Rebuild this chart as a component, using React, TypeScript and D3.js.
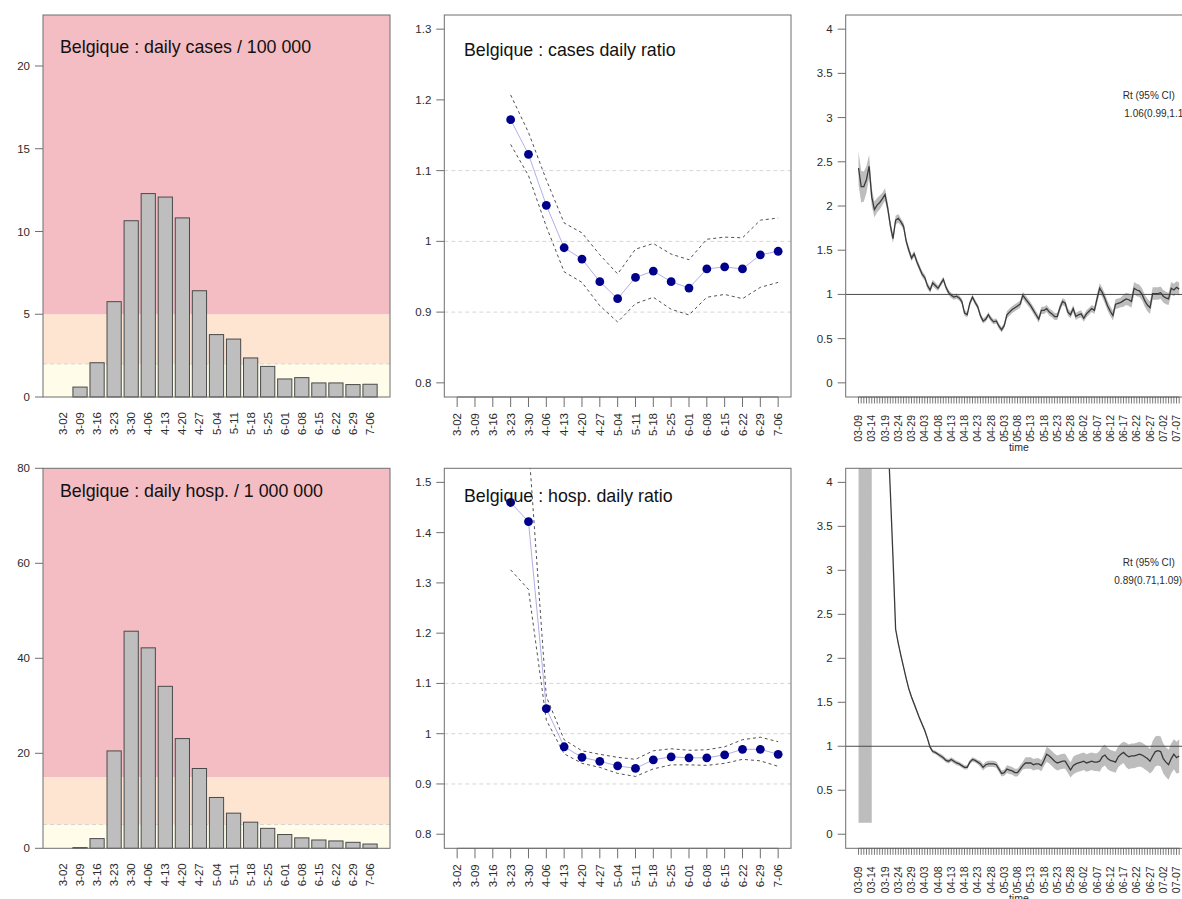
import React from "react";
import * as d3 from "d3";

const FONT = "'Liberation Sans', Arial, Helvetica, sans-serif";

// weekly categories (left and middle columns)
const weeks = ["3-02", "3-09", "3-16", "3-23", "3-30", "4-06", "4-13", "4-20", "4-27", "5-04",
  "5-11", "5-18", "5-25", "6-01", "6-08", "6-15", "6-22", "6-29", "7-06"];

const casesPer100k = [0, 0.6, 2.07, 5.76, 10.65, 12.29, 12.08, 10.82, 6.42, 3.77, 3.5, 2.36, 1.85, 1.09, 1.17, 0.85, 0.85, 0.75, 0.77];
const hospPer1M = [0, 0.15, 2.04, 20.5, 45.7, 42.2, 34.1, 23.1, 16.8, 10.7, 7.4, 5.5, 4.2, 2.9, 2.2, 1.75, 1.55, 1.26, 0.9];

const casesRatio = [null, null, null, 1.172, 1.123, 1.051, 0.991, 0.975, 0.943, 0.919, 0.949, 0.958, 0.943, 0.934, 0.961, 0.964, 0.961, 0.981, 0.986];
const casesRatioHi = [null, null, null, 1.207, 1.154, 1.087, 1.026, 1.012, 0.981, 0.954, 0.989, 0.997, 0.982, 0.974, 1.003, 1.006, 1.005, 1.03, 1.033];
const casesRatioLo = [null, null, null, 1.137, 1.093, 1.021, 0.957, 0.942, 0.909, 0.886, 0.912, 0.921, 0.904, 0.896, 0.921, 0.925, 0.919, 0.935, 0.942];

const hospRatio = [null, null, null, 1.46, 1.422, 1.05, 0.974, 0.953, 0.945, 0.936, 0.931, 0.948, 0.954, 0.952, 0.952, 0.958, 0.969, 0.969, 0.959];
const hospRatioHi = [null, null, null, 1.9, 1.578, 1.074, 0.988, 0.966, 0.959, 0.953, 0.949, 0.966, 0.97, 0.967, 0.968, 0.974, 0.988, 0.993, 0.984];
const hospRatioLo = [null, null, null, 1.326, 1.287, 1.027, 0.96, 0.941, 0.933, 0.921, 0.915, 0.93, 0.938, 0.938, 0.937, 0.941, 0.949, 0.946, 0.935];

// daily Rt, day 0 = 03-09
const rtTickLabels = ["03-09", "03-14", "03-19", "03-24", "03-29", "04-03", "04-08", "04-13", "04-18", "04-23",
  "04-28", "05-03", "05-08", "05-13", "05-18", "05-23", "05-28", "06-02", "06-07", "06-12",
  "06-17", "06-22", "06-27", "07-02", "07-07"];

const rtCases = [
  2.43, 2.22, 2.22, 2.3, 2.45, 2.1, 1.96, 2.01, 2.04, 2.08,
  2.13, 1.98, 1.78, 1.63, 1.84, 1.86, 1.82, 1.77, 1.6, 1.5,
  1.41, 1.46, 1.37, 1.3, 1.23, 1.19, 1.1, 1.05, 1.13, 1.1,
  1.07, 1.12, 1.17, 1.08, 1.02, 0.99, 0.97, 0.98, 0.96, 0.92,
  0.79, 0.77, 0.9, 0.97, 0.91, 0.86, 0.76, 0.7, 0.72, 0.77,
  0.72, 0.69, 0.7, 0.64, 0.6, 0.65, 0.77, 0.8, 0.83, 0.85,
  0.87, 0.89, 0.99, 0.95, 0.91, 0.87, 0.82, 0.77, 0.72, 0.82,
  0.82, 0.84, 0.8, 0.78, 0.75, 0.75, 0.85, 0.92, 0.9, 0.8,
  0.77, 0.84, 0.75, 0.77, 0.78, 0.73, 0.78, 0.81, 0.84, 0.82,
  0.95, 1.07, 1.02, 0.95, 0.87, 0.81, 0.76, 0.89, 0.9, 0.91,
  0.93, 0.95, 0.94, 0.92, 1.07, 1.05, 1.04, 1.0, 0.93, 0.88,
  0.85, 1.01, 1.01, 1.01, 1.02, 0.98, 0.96, 0.95, 1.07, 1.05,
  1.08, 1.06];
const rtCasesHalf = [
  0.19, 0.18, 0.17, 0.15, 0.13, 0.1, 0.09, 0.08, 0.08, 0.07,
  0.07, 0.06, 0.06, 0.05, 0.05, 0.05, 0.04, 0.04, 0.04, 0.04,
  0.035, 0.035, 0.035, 0.035, 0.035, 0.035, 0.035, 0.035, 0.035, 0.035,
  0.03, 0.03, 0.03, 0.03, 0.03, 0.03, 0.03, 0.03, 0.03, 0.03,
  0.03, 0.03, 0.03, 0.03, 0.03, 0.03, 0.03, 0.03, 0.03, 0.03,
  0.03, 0.03, 0.03, 0.03, 0.03, 0.03, 0.04, 0.04, 0.04, 0.04,
  0.04, 0.04, 0.04, 0.04, 0.04, 0.04, 0.04, 0.04, 0.04, 0.04,
  0.04, 0.04, 0.04, 0.04, 0.04, 0.04, 0.04, 0.04, 0.04, 0.04,
  0.04, 0.04, 0.04, 0.04, 0.04, 0.04, 0.04, 0.04, 0.04, 0.04,
  0.055, 0.055, 0.055, 0.055, 0.055, 0.055, 0.055, 0.055, 0.055, 0.055,
  0.07, 0.07, 0.07, 0.07, 0.07, 0.07, 0.07, 0.07, 0.07, 0.07,
  0.07, 0.07, 0.07, 0.07, 0.07, 0.07, 0.07, 0.07, 0.07, 0.07,
  0.07, 0.075];

const rtHosp = [
  null, null, null, null, null, null, null, null, null, null,
  null, 4.6, 3.9, 3.15, 2.33, 2.17, 2.03, 1.9, 1.77, 1.65,
  1.56, 1.48, 1.4, 1.32, 1.25, 1.18, 1.09, 0.99, 0.94, 0.93,
  0.91, 0.89, 0.87, 0.84, 0.83, 0.85, 0.83, 0.81, 0.8, 0.78,
  0.76, 0.76, 0.82, 0.85, 0.84, 0.82, 0.8, 0.76, 0.79, 0.8,
  0.8, 0.8, 0.79, 0.74, 0.69, 0.7, 0.74, 0.73, 0.72, 0.7,
  0.7, 0.74, 0.78, 0.81, 0.81, 0.81, 0.79, 0.8, 0.8, 0.78,
  0.84, 0.91, 0.89, 0.86, 0.83, 0.81, 0.82, 0.83, 0.83, 0.78,
  0.73, 0.78, 0.8, 0.81, 0.82, 0.83, 0.81, 0.82, 0.83, 0.82,
  0.82, 0.83, 0.88, 0.9, 0.86, 0.84, 0.83, 0.82, 0.88, 0.91,
  0.93, 0.9, 0.88, 0.89, 0.89, 0.9, 0.91, 0.9, 0.88, 0.86,
  0.83, 0.89, 0.94, 0.95, 0.94, 0.86, 0.82, 0.79, 0.86, 0.91,
  0.87, 0.89];
const rtHospHalf = [
  null, null, null, null, null, null, null, null, null, null,
  null, 0.02, 0.02, 0.02, 0.02, 0.02, 0.02, 0.02, 0.02, 0.02,
  0.02, 0.02, 0.02, 0.02, 0.02, 0.02, 0.02, 0.02, 0.02, 0.02,
  0.02, 0.025, 0.025, 0.025, 0.025, 0.025, 0.025, 0.025, 0.025, 0.025,
  0.025, 0.025, 0.025, 0.025, 0.025, 0.025, 0.035, 0.035, 0.035, 0.035,
  0.035, 0.035, 0.035, 0.035, 0.035, 0.035, 0.045, 0.045, 0.045, 0.045,
  0.045, 0.045, 0.045, 0.065, 0.065, 0.065, 0.065, 0.065, 0.065, 0.065,
  0.065, 0.085, 0.085, 0.085, 0.085, 0.085, 0.085, 0.085, 0.085, 0.085,
  0.085, 0.1, 0.1, 0.1, 0.1, 0.1, 0.1, 0.1, 0.1, 0.1,
  0.1, 0.12, 0.12, 0.12, 0.12, 0.12, 0.12, 0.12, 0.12, 0.12,
  0.12, 0.14, 0.14, 0.14, 0.14, 0.14, 0.14, 0.14, 0.14, 0.14,
  0.14, 0.17, 0.17, 0.17, 0.17, 0.17, 0.17, 0.17, 0.17, 0.17,
  0.18, 0.19];
// first days of the hosp. estimate: very wide interval
const rtHospEarlyLo = [0.13, 0.13, 0.13, 0.13, 0.13, 0.13];
const rtHospEarlyHi = [9, 9, 9, 9, 9, 9];

const casesZones = [2, 5];
const hospZones = [5, 15];
const casesTicks = [0, 5, 10, 15, 20];
const hospTicks = [0, 20, 40, 60, 80];
const casesRatioTicks = [0.8, 0.9, 1, 1.1, 1.2, 1.3];
const hospRatioTicks = [0.8, 0.9, 1, 1.1, 1.2, 1.3, 1.4, 1.5];
const ratioGrid = [0.9, 1, 1.1];
const rtTicks = [0, 0.5, 1, 1.5, 2, 2.5, 3, 3.5, 4];

const ZONE_LOW = "#FFFDE9";
const ZONE_MID = "#FEE5D1";
const ZONE_HIGH = "#F4BCC3";
const BOX = "#6e6e6e";
const TXT = "#2b2b2b";

const fmt = (v: number) => `${+v.toFixed(2)}`;

function YAxis({ y, ticks, x0 }: any) {
  return (
    <g>
      {ticks.map((t: number) => (
        <g key={t}>
          <line x1={x0 - 8} x2={x0} y1={y(t)} y2={y(t)} stroke={BOX} />
          <text x={x0 - 13} y={y(t)} dy="0.35em" textAnchor="end" fontSize={11.5} fill={TXT}>{fmt(t)}</text>
        </g>
      ))}
    </g>
  );
}

function BarPanel({ values, yDomain, yTicks, zones, title, top, bottom, titleY }: any) {
  const x0 = 43, x1 = 390;
  const x = d3.scaleBand<string>().domain(weeks).range([x0, x1]).paddingInner(1 / 6).paddingOuter(0.753);
  const y = d3.scaleLinear().domain(yDomain).range([bottom, top]);
  return (
    <g>
      <rect x={x0} y={y(zones[0])} width={x1 - x0} height={y(0) - y(zones[0])} fill={ZONE_LOW} />
      <rect x={x0} y={y(zones[1])} width={x1 - x0} height={y(zones[0]) - y(zones[1])} fill={ZONE_MID} />
      <rect x={x0} y={top} width={x1 - x0} height={y(zones[1]) - top} fill={ZONE_HIGH} />
      <line x1={x0} x2={x1} y1={y(zones[0])} y2={y(zones[0])} stroke="#d4d4d4" strokeDasharray="4,3" />
      {values.map((v: number, i: number) => (
        <rect key={i} x={x(weeks[i])} y={y(v)} width={x.bandwidth()} height={y(0) - y(v)}
          fill="#BEBEBE" stroke="#4a4a4a" strokeWidth={1} />
      ))}
      <rect x={x0} y={top} width={x1 - x0} height={bottom - top} fill="none" stroke={BOX} />
      <YAxis y={y} ticks={yTicks} x0={x0} />
      {weeks.map((w) => (
        <text key={w} transform={`translate(${x(w)! + x.bandwidth() / 2},${bottom + 15}) rotate(-90)`}
          textAnchor="end" dy="0.35em" fontSize={11.5} fill={TXT}>{w}</text>
      ))}
      <text x={60} y={titleY} fontSize={17.8} fill="#111">{title}</text>
    </g>
  );
}

function RatioPanel({ id, mid, hi, lo, yDomain, yTicks, title, top, bottom, titleY }: any) {
  const x0 = 444.3, x1 = 791;
  const x = d3.scaleLinear().domain([-0.72, weeks.length - 1 + 0.72]).range([x0, x1]);
  const y = d3.scaleLinear().domain(yDomain).range([bottom, top]);
  const line = d3.line<number | null>()
    .defined((d) => d != null)
    .x((_, i) => x(i))
    .y((d) => y(d as number));
  return (
    <g>
      <defs>
        <clipPath id={id}><rect x={x0} y={top} width={x1 - x0} height={bottom - top} /></clipPath>
      </defs>
      {ratioGrid.map((g) => (
        <line key={g} x1={x0} x2={x1} y1={y(g)} y2={y(g)} stroke="#d6d6d6" strokeDasharray="4,3" />
      ))}
      <g clipPath={`url(#${id})`}>
        <path d={line(hi)!} fill="none" stroke="#505050" strokeDasharray="3,3" strokeWidth={1} />
        <path d={line(lo)!} fill="none" stroke="#505050" strokeDasharray="3,3" strokeWidth={1} />
        <path d={line(mid)!} fill="none" stroke="#b0b0e6" strokeWidth={1} />
        {mid.map((v: number | null, i: number) => v == null ? null : (
          <circle key={i} cx={x(i)} cy={y(v)} r={4.4} fill="#00008B" />
        ))}
      </g>
      <rect x={x0} y={top} width={x1 - x0} height={bottom - top} fill="none" stroke={BOX} />
      <YAxis y={y} ticks={yTicks} x0={x0} />
      <line x1={x(0)} x2={x(weeks.length - 1)} y1={bottom} y2={bottom} stroke={BOX} />
      {weeks.map((w, i) => (
        <g key={w}>
          <line x1={x(i)} x2={x(i)} y1={bottom} y2={bottom + 10} stroke={BOX} />
          <text transform={`translate(${x(i)},${bottom + 16}) rotate(-90)`}
            textAnchor="end" dy="0.35em" fontSize={11.5} fill={TXT}>{w}</text>
        </g>
      ))}
      <text x={464} y={titleY} fontSize={17.8} fill="#111">{title}</text>
    </g>
  );
}

function RtPanel({ id, mean, half, earlyLo, earlyHi, top, bottom, note }: any) {
  const x0 = 845.7, x1 = 1192;
  const n = mean.length;
  const x = d3.scaleLinear().domain([-(n - 1) * 0.04, (n - 1) * 1.04]).range([x0, x1]);
  const y = d3.scaleLinear().domain([-0.16, 4.16]).range([bottom, top]);
  const band = mean.map((m: number | null, i: number) => {
    if (earlyLo && i < earlyLo.length) return { i, lo: earlyLo[i], hi: earlyHi[i] };
    if (m == null) return null;
    return { i, lo: m - half[i], hi: m + half[i] };
  });
  const area = d3.area<any>()
    .defined((d) => d != null)
    .x((d) => x(d.i))
    .y0((d) => y(d.lo))
    .y1((d) => y(d.hi));
  const line = d3.line<number | null>()
    .defined((d) => d != null)
    .x((_, i) => x(i))
    .y((d) => y(d as number));
  const days = d3.range(n);
  return (
    <g>
      <defs>
        <clipPath id={id}><rect x={x0} y={top} width={x1 - x0} height={bottom - top} /></clipPath>
      </defs>
      <g clipPath={`url(#${id})`}>
        <path d={area(band)!} fill="#bdbdbd" />
        <line x1={x0} x2={x1} y1={y(1)} y2={y(1)} stroke="#4a4a4a" strokeWidth={1} />
        <path d={line(mean)!} fill="none" stroke="#3a3a3a" strokeWidth={1.3} />
      </g>
      <rect x={x0} y={top} width={x1 - x0} height={bottom - top} fill="none" stroke={BOX} />
      <YAxis y={y} ticks={rtTicks} x0={x0} />
      <line x1={x(0)} x2={x(n - 1)} y1={bottom} y2={bottom} stroke={BOX} />
      {days.map((d) => (
        <line key={d} x1={x(d)} x2={x(d)} y1={bottom} y2={bottom + 6.5} stroke="#555" strokeWidth={0.8} />
      ))}
      {rtTickLabels.map((lab, k) => (
        <text key={lab} transform={`translate(${x(k * 5)},${bottom + 18}) rotate(-90)`}
          textAnchor="end" dy="0.35em" fontSize={10.5} fill={TXT}>{lab}</text>
      ))}
      <text x={(x0 + x1) / 2} y={bottom + 54} textAnchor="middle" fontSize={10.5} fill={TXT}>time</text>
      <text x={1122.7} y={note.y1} fontSize={10} fill={TXT}>Rt (95% CI)</text>
      <text x={note.x} y={note.y2} fontSize={10} fill={TXT}>{note.text}</text>
    </g>
  );
}

export default function App() {
  return (
    <svg width={1182} height={899} style={{ position: "absolute", left: 0, top: 0, background: "#fff" }}
      fontFamily={FONT}>
      <rect width={1182} height={899} fill="#fff" />
      <BarPanel values={casesPer100k} yDomain={[0, 23.08]} yTicks={casesTicks} zones={casesZones}
        title="Belgique : daily cases / 100 000" top={15} bottom={397} titleY={53} />
      <BarPanel values={hospPer1M} yDomain={[0, 80]} yTicks={hospTicks} zones={hospZones}
        title="Belgique : daily hosp. / 1 000 000" top={468.3} bottom={848.3} titleY={497} />
      <RatioPanel id="c1" mid={casesRatio} hi={casesRatioHi} lo={casesRatioLo} yDomain={[0.78, 1.32]}
        yTicks={casesRatioTicks} title="Belgique : cases daily ratio" top={15} bottom={397} titleY={56} />
      <RatioPanel id="c2" mid={hospRatio} hi={hospRatioHi} lo={hospRatioLo} yDomain={[0.772, 1.528]}
        yTicks={hospRatioTicks} title="Belgique : hosp. daily ratio" top={468.3} bottom={848.3} titleY={502} />
      <RtPanel id="c3" mean={rtCases} half={rtCasesHalf} top={15} bottom={397}
        note={{ x: 1124.3, y1: 98.5, y2: 116.5, text: "1.06(0.99,1.14)" }} />
      <RtPanel id="c4" mean={rtHosp} half={rtHospHalf} earlyLo={rtHospEarlyLo} earlyHi={rtHospEarlyHi}
        top={468.3} bottom={848.3} note={{ x: 1114.3, y1: 565.5, y2: 583.5, text: "0.89(0.71,1.09)" }} />
    </svg>
  );
}
